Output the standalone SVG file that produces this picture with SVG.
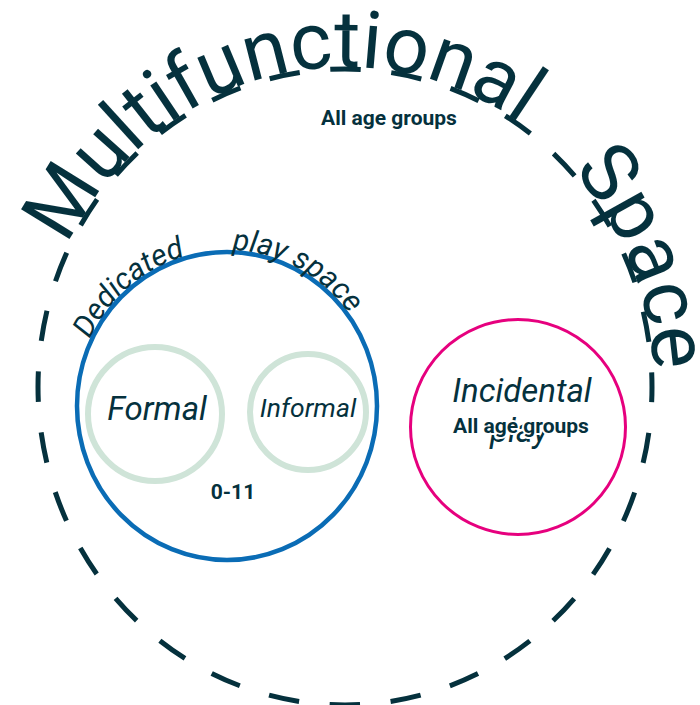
<svg xmlns="http://www.w3.org/2000/svg" width="700" height="705" viewBox="0 0 700 705">
  <style>
    .t { font-family: Roboto, "Liberation Sans", sans-serif; fill: #05313d; }
    .title { font-size: 80px; font-weight: 400; }
    .arc { font-size: 30px; font-style: italic; }
    .it { font-style: italic; text-anchor: middle; }
    .bold { font-weight: 700; font-size: 21px; text-anchor: middle; }
    .halo { stroke: #ffffff; stroke-width: 4px; paint-order: stroke; stroke-linejoin: round; }
  </style>
  <defs>
    <path id="bigArc" d="M 36 387 A 309 320 0 0 1 654 387 A 309 320 0 0 1 36 387" />
    <path id="blueArc" d="M 75 406 A 152 156 0 0 1 379 406 A 152 156 0 0 1 75 406" />
  </defs>
  <rect width="700" height="705" fill="#ffffff" />

  <g id="connectors"></g>

  <g id="multifunctional-space">
    <ellipse cx="345" cy="387" rx="307" ry="318" fill="none" stroke="#05313d" stroke-width="5" stroke-dasharray="30.68 30.68" stroke-dashoffset="15.34" />
    <text class="t title"><textPath href="#bigArc" startOffset="146">Multifunctional</textPath></text>
    <text class="t title"><textPath href="#bigArc" startOffset="751">Space</textPath></text>
    <text class="t bold" x="389" y="125">All age groups</text>
  </g>

  <g id="dedicated-play-space">
    <ellipse cx="227" cy="406" rx="150" ry="154" fill="none" stroke="#0a6cb5" stroke-width="4.5" />
    <text class="t arc"><textPath href="#blueArc" startOffset="69">Dedicated</textPath></text>
    <text class="t arc"><textPath href="#blueArc" startOffset="247">play space</textPath></text>
    <text class="t bold" x="233" y="499">0-11</text>
  </g>

  <g id="formal">
    <circle cx="155" cy="414" r="67" fill="none" stroke="#cfe4d8" stroke-width="6" />
    <text class="t it" x="157" y="420" font-size="33">Formal</text>
  </g>

  <g id="informal">
    <circle cx="308" cy="412" r="58" fill="none" stroke="#cfe4d8" stroke-width="6" />
    <text class="t it" x="308" y="417" font-size="26.5">Informal</text>
  </g>

  <g id="incidental-play">
    <circle cx="518" cy="427" r="107.5" fill="none" stroke="#e6007e" stroke-width="3" />
    <text class="t it" x="522" y="402" font-size="33">Incidental</text>
    <text class="t it" x="519" y="442" font-size="33">play</text>
    <text class="t bold halo" x="521" y="433">All age groups</text>
  </g>
</svg>
